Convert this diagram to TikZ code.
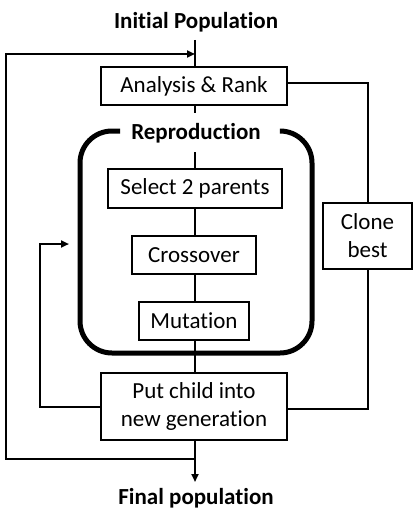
\documentclass[tikz,border=0pt]{standalone}
\usepackage{fontspec}
\setmainfont[Ligatures=NoCommon]{Carlito}
\usetikzlibrary{arrows.meta}
\begin{document}
\begin{tikzpicture}[x=1pt,y=-1pt,
  box/.style={draw,line width=1.1pt,inner sep=0pt,align=center,font=\fontsize{23}{28}\selectfont},
  lbl/.style={font=\bfseries\fontsize{23}{28}\selectfont,inner sep=0pt},
  conn/.style={line width=2pt},
  arr/.style={line width=2pt,-{Triangle[length=8pt,width=7pt]}}]
\useasboundingbox (0,0) rectangle (413,508);
\node[lbl] (init) at (196,22) {Initial Population};
\node[box,minimum width=186pt,minimum height=38pt] (ar) at (194,86) {Analysis \& Rank};
\node[lbl] (repro) at (196,133) {Reproduction};
\node[box,minimum width=174pt,minimum height=39pt] (sel) at (195,188.5) {Select 2 parents};
\node[box,minimum width=124pt,minimum height=38pt] (cro) at (194,255) {Crossover};
\node[box,minimum width=110pt,minimum height=38pt] (mut) at (194,321) {Mutation};
\node[box,minimum width=186pt,minimum height=67pt] (put) at (194,406.5) {Put child into\\new generation};
\node[box,minimum width=89pt,minimum height=66pt] (clone) at (367.5,236) {Clone\\best};
\node[lbl] (final) at (196,498) {Final population};
\coordinate (top) at (195,40);
\coordinate (rtop) at (195,113);
\coordinate (rbot) at (195,152);
\coordinate (join) at (195,459);
\coordinate (fend) at (195,482);
\coordinate (lbend) at (6,54);
\coordinate (fb) at (69,244);
% main axis
\draw[conn] (top) -- (ar.north -| top);
\draw[conn] (ar.south -| top) -- (rtop);
\draw[conn] (rbot) -- (sel.north -| rbot);
\draw[conn] (sel.south -| rbot) -- (cro.north -| rbot);
\draw[conn] (cro.south -| rbot) -- (mut.north -| rbot);
\draw[conn] (mut.south -| rbot) -- (put.north -| rbot);
\draw[arr] (put.south -| join) -- (fend);
% reproduction frame
\draw[line width=5pt,rounded corners=32pt] (120,131) -| (80,353) -| (312,131) -- (282,131);
% outer loop
\draw[arr] (join) -| (lbend) -- (lbend -| top);
% clone best path
\draw[conn] (ar.east |- 0,83) -| (clone.north);
\draw[conn] (clone.south) |- (put.east |- 0,409);
% feedback
\draw[arr] (put.west |- 0,407) -| (40,244) -- (fb);
\end{tikzpicture}
\end{document}
